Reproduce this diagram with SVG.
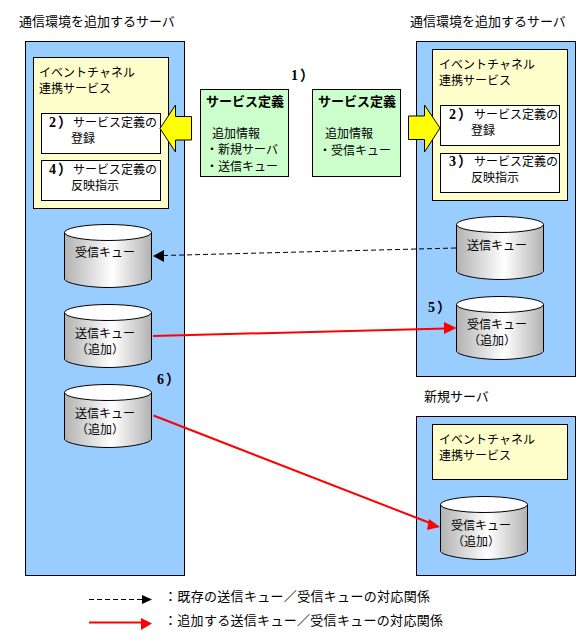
<svg xmlns="http://www.w3.org/2000/svg" width="582" height="641" viewBox="0 0 582 641">
<style>
text{font-family:"Noto Sans CJK JP","Noto Sans",sans-serif;font-size:12px;fill:#000}
.t13{font-size:13px}
.b{font-weight:700;font-size:13px}
.n{font-family:"Liberation Serif","Noto Sans CJK JP",serif;font-weight:700;font-size:14px}
.panel{fill:#99ccff;stroke:#000;stroke-width:1}
.svc{fill:#ffffcc;stroke:#000;stroke-width:1}
.box{fill:#fff;stroke:#000;stroke-width:1}
.def{fill:#ccffcc;stroke:#000;stroke-width:1}
.body{fill:url(#cyl);stroke:#000;stroke-width:1}
.top{fill:#fff;stroke:#000;stroke-width:1}
.dash{fill:none;stroke:#000;stroke-width:1;stroke-dasharray:5 3}
.red{fill:none;stroke:#ff0000;stroke-width:2}
.blk{fill:#000}
.rh{fill:#ff0000}
.ya{fill:#ffff00;stroke:#000;stroke-width:1}
</style>
<defs>
<linearGradient id="cyl" x1="0" x2="1" y1="0" y2="0">
<stop offset="0" stop-color="#b2b2b2"/>
<stop offset="0.55" stop-color="#ffffff"/>
<stop offset="1" stop-color="#b2b2b2"/>
</linearGradient>
<g id="can">
<path class="body" d="M0.5 8.500V55C0.500 59 22 63.500 44 63.500S87.500 59 87.500 55V8.500Z"/>
<ellipse class="top" cx="44" cy="8.500" rx="43.500" ry="8"/>
</g>
</defs>

<g id="title-left"><text class="t13" x="19" y="26">通信環境を追加するサーバ</text></g>
<g id="title-right"><text class="t13" x="410" y="26">通信環境を追加するサーバ</text></g>
<g id="title-new"><text class="t13" x="424" y="401">新規サーバ</text></g>

<g id="server-left">
<rect class="panel" x="25.500" y="41.500" width="159" height="534"/>
<g id="service-left">
<rect class="svc" x="33.500" y="57.500" width="135" height="151"/>
<text x="39" y="77">イベントチャネル</text>
<text x="39" y="93">連携サービス</text>
</g>
<g id="step2-left">
<rect class="box" x="41.500" y="113.500" width="119" height="40"/>
<text class="n" x="49" y="127">2<tspan dx="2">）</tspan></text>
<text x="73" y="127">サービス定義の</text>
<text x="71" y="143">登録</text>
</g>
<g id="step4-left">
<rect class="box" x="41.500" y="160.500" width="119" height="40"/>
<text class="n" x="49" y="174">4<tspan dx="2">）</tspan></text>
<text x="73" y="174">サービス定義の</text>
<text x="71" y="190">反映指示</text>
</g>
</g>

<g id="server-right">
<rect class="panel" x="416.500" y="41.500" width="159" height="335"/>
<g id="service-right">
<rect class="svc" x="432.500" y="49.500" width="135" height="151"/>
<text x="439" y="69">イベントチャネル</text>
<text x="439" y="85">連携サービス</text>
</g>
<g id="step2-right">
<rect class="box" x="440.500" y="105.500" width="119" height="40"/>
<text class="n" x="449" y="119">2<tspan dx="2">）</tspan></text>
<text x="474" y="119">サービス定義の</text>
<text x="471" y="135">登録</text>
</g>
<g id="step3-right">
<rect class="box" x="440.500" y="153.500" width="119" height="39"/>
<text class="n" x="449" y="166">3<tspan dx="2">）</tspan></text>
<text x="474" y="166">サービス定義の</text>
<text x="471" y="182">反映指示</text>
</g>
</g>

<g id="server-new">
<rect class="panel" x="416.500" y="416.500" width="159" height="159"/>
<g id="service-new">
<rect class="svc" x="432.500" y="424.500" width="135" height="55"/>
<text x="439" y="444">イベントチャネル</text>
<text x="439" y="460">連携サービス</text>
</g>
</g>

<g id="def-left">
<rect class="def" x="200.500" y="89.500" width="88" height="87"/>
<text class="b" x="206" y="106">サービス定義</text>
<text x="212" y="138">追加情報</text>
<text x="206" y="154">・新規サーバ</text>
<text x="206" y="171">・送信キュー</text>
</g>
<g id="def-right">
<rect class="def" x="312.500" y="89.500" width="88" height="87"/>
<text class="b" x="318" y="106">サービス定義</text>
<text x="325" y="138">追加情報</text>
<text x="319" y="155">・受信キュー</text>
</g>
<g id="step1"><text class="n" x="291" y="80">1<tspan dx="2">）</tspan></text></g>

<g id="arrow-left"><path class="ya" d="M160 128.500L175.500 105V116.500H191.500V140H175.500V152Z"/></g>
<g id="arrow-right"><path class="ya" d="M408.500 116H424.500V105L440 128L424.500 152V139.500H408.500Z"/></g>

<g id="queue-recv-left">
<use href="#can" x="64" y="224"/>
<text x="75" y="257">受信キュー</text>
</g>
<g id="queue-send-add-1">
<use href="#can" x="64" y="304"/>
<text x="75" y="338">送信キュー</text>
<text x="76" y="354">（追加）</text>
</g>
<g id="queue-send-add-2">
<use href="#can" x="64" y="384"/>
<text x="75" y="418">送信キュー</text>
<text x="76" y="434">（追加）</text>
</g>
<g id="queue-send-right">
<use href="#can" x="456" y="216"/>
<text x="467" y="250">送信キュー</text>
</g>
<g id="queue-recv-add-right">
<use href="#can" x="456" y="296"/>
<text x="467" y="329">受信キュー</text>
<text x="468" y="345">（追加）</text>
</g>
<g id="queue-recv-new">
<use href="#can" x="440" y="496"/>
<text x="451" y="530">受信キュー</text>
<text x="452" y="546">（追加）</text>
</g>
<g id="step5"><text class="n" x="428" y="312">5<tspan dx="2">）</tspan></text></g>
<g id="step6"><text class="n" x="157" y="384">6<tspan dx="2">）</tspan></text></g>

<g id="connectors">
<path class="dash" d="M456 248L164 255.500"/>
<path class="blk" d="M153 256L164 250V262Z"/>
<path class="red" d="M153 336L446 328.500"/>
<path class="rh" d="M456.500 328L444 322V334Z"/>
<path class="red" d="M153.500 415.500L430 523"/>
<path class="rh" d="M440 527L429 519L427 530Z"/>
</g>

<g id="legend">
<path class="dash" d="M89 599.500H142"/>
<path class="blk" d="M152 599.500L142 595V604Z"/>
<path class="red" d="M89 622.500H142"/>
<path class="rh" d="M152 623.500L141 618V630Z"/>
<text class="t13" x="164" y="601" textLength="266">：既存の送信キュー／受信キューの対応関係</text>
<text class="t13" x="164" y="625" textLength="279">：追加する送信キュー／受信キューの対応関係</text>
</g>
</svg>
